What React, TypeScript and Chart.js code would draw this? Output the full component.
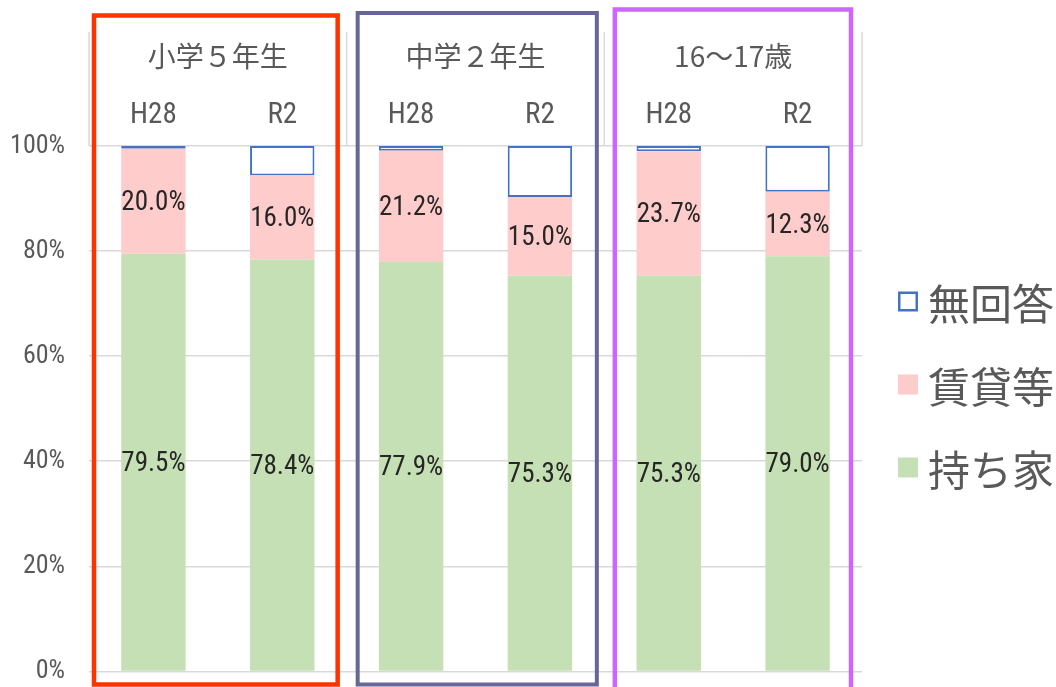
import React, { useEffect, useRef } from 'react';
import { Chart, registerables } from 'chart.js';

Chart.register(...registerables);

// ---- data ----
const categories = ['H28', 'R2', 'H28', 'R2', 'H28', 'R2'];
const groups = ['小学５年生', '中学２年生', '16～17歳'];
const seriesNames = ['持ち家', '賃貸等', '無回答'];
const ownHome = [79.5, 78.4, 77.9, 75.3, 75.3, 79.0];
const rental = [20.0, 16.0, 21.2, 15.0, 23.7, 12.3];
const noAnswer = [0.5, 5.6, 0.9, 9.7, 1.0, 8.7];
const yTickValues = [0, 20, 40, 60, 80, 100];
const yTickLabels = ['0%', '20%', '40%', '60%', '80%', '100%'];

// ---- styles ----
const NARROW = "'Liberation Sans Narrow', 'Roboto Condensed', 'DejaVu Sans Condensed', Roboto, sans-serif";
const CJK = "'Noto Sans CJK JP', 'Noto Sans CJK SC', sans-serif";
const TEXT = '#595959';
const GRID = '#d9d9d9';
const COLORS = { own: '#C5E0B4', rent: '#FFCCCC', none: '#FFFFFF', noneBorder: '#4472C4' };
const FRAMES = [
  { color: '#FF3300', inL: 5, inR: 9, top: 15.5, bottom: 684.5, width: 4.5 },
  { color: '#666699', inL: 11, inR: 7.5, top: 13, bottom: 684.5, width: 4 },
  { color: '#CC66FF', inL: 10.5, inR: 11, top: 9.5, bottom: 692, width: 4.5 },
];
const LEGEND = { boxX: 898, textX: 928, firstY: 304, step: 83, box: 20, font: 42 };

const decorPlugin = {
  id: 'decor',
  afterDatasetsDraw(chart: any) {
    const ctx = chart.ctx;
    ctx.save();
    ctx.font = `27px ${NARROW}`;
    ctx.fillStyle = '#262626';
    ctx.textAlign = 'center';
    ctx.textBaseline = 'middle';
    [0, 1].forEach((di) => {
      const meta = chart.getDatasetMeta(di);
      meta.data.forEach((bar: any, i: number) => {
        const v = chart.data.datasets[di].data[i] as number;
        const y = (bar.y + bar.base) / 2 + 2;
        ctx.fillText(v.toFixed(1) + '%', bar.x, y);
      });
    });
    ctx.restore();
  },
  afterDraw(chart: any) {
    const ctx = chart.ctx;
    const x2 = chart.scales.x2;
    const top = chart.chartArea.top;
    const b = (i: number) => x2.getPixelForValue(i - 0.5);
    ctx.save();
    // header dividers
    ctx.strokeStyle = GRID;
    ctx.lineWidth = 1.5;
    for (let i = 0; i <= groups.length; i++) {
      const x = b(i);
      ctx.beginPath();
      ctx.moveTo(x, 32);
      ctx.lineTo(x, top);
      ctx.stroke();
    }
    // group frames
    FRAMES.forEach((f, i) => {
      const l = b(i) + f.inL;
      const r = b(i + 1) - f.inR;
      ctx.strokeStyle = f.color;
      ctx.lineWidth = f.width;
      ctx.strokeRect(l, f.top, r - l, f.bottom - f.top);
    });
    // legend
    const order = [2, 1, 0];
    ctx.font = `${LEGEND.font}px ${CJK}`;
    ctx.textAlign = 'left';
    ctx.textBaseline = 'middle';
    order.forEach((di, k) => {
      const ds = chart.data.datasets[di];
      const cy = LEGEND.firstY + k * LEGEND.step;
      const by = cy - 2.5 - LEGEND.box / 2;
      if (ds.borderWidth) {
        ctx.fillStyle = '#FFFFFF';
        ctx.fillRect(LEGEND.boxX, by, LEGEND.box, LEGEND.box);
        ctx.strokeStyle = ds.borderColor;
        ctx.lineWidth = 2.5;
        ctx.strokeRect(LEGEND.boxX + 1.25, by + 1.25, LEGEND.box - 2.5, LEGEND.box - 2.5);
      } else {
        ctx.fillStyle = ds.backgroundColor;
        ctx.fillRect(LEGEND.boxX, by, LEGEND.box, LEGEND.box);
      }
      ctx.fillStyle = TEXT;
      ctx.fillText(ds.label, LEGEND.textX, cy);
    });
    ctx.restore();
  },
};

export default function App() {
  const ref = useRef<HTMLCanvasElement>(null);
  useEffect(() => {
    document.body.style.margin = '0';
    const canvas = ref.current;
    if (!canvas) return;
    const chart = new Chart(canvas, {
      type: 'bar',
      data: {
        labels: categories,
        datasets: [
          { label: seriesNames[0], data: ownHome, backgroundColor: COLORS.own, borderWidth: 0 },
          { label: seriesNames[1], data: rental, backgroundColor: COLORS.rent, borderWidth: 0 },
          {
            label: seriesNames[2], data: noAnswer, backgroundColor: COLORS.none,
            borderColor: COLORS.noneBorder, borderWidth: 2, borderSkipped: false,
          },
        ],
      },
      options: {
        responsive: false,
        animation: false,
        devicePixelRatio: 1,
        categoryPercentage: 0.5,
        barPercentage: 1,
        layout: { padding: { top: 26.8, left: 0, right: 194, bottom: 15 } },
        plugins: { legend: { display: false }, tooltip: { enabled: false } },
        scales: {
          x: {
            type: 'category',
            position: 'top',
            stacked: true,
            offset: true,
            weight: 0,
            grid: { display: false, drawTicks: false },
            border: { display: false },
            ticks: {
              font: { family: NARROW, size: 29, lineHeight: 1.2 },
              color: TEXT, padding: 13, maxRotation: 0, autoSkip: false,
            },
          },
          x2: {
            type: 'category',
            position: 'top',
            labels: groups,
            offset: true,
            weight: 1,
            grid: { display: false, drawTicks: false },
            border: { display: false },
            ticks: {
              font: { family: CJK, size: 28, lineHeight: 1.2 },
              color: TEXT, padding: 12.4, maxRotation: 0, autoSkip: false,
            },
          },
          y: {
            stacked: true,
            min: 0,
            max: 100,
            afterBuildTicks: (scale: any) => { scale.ticks = yTickValues.map((v) => ({ value: v })); },
            afterFit: (scale: any) => { scale.width = 89; },
            grid: {
              color: GRID, lineWidth: 1.5, drawTicks: true, tickLength: 24,
              tickColor: 'rgba(0,0,0,0)',
            },
            border: { display: false },
            ticks: {
              font: { family: NARROW, size: 26, lineHeight: 1.2 },
              color: TEXT, padding: 0,
              callback: (v: any) => yTickLabels[yTickValues.indexOf(Number(v))],
            },
          },
        },
      } as any,
      plugins: [decorPlugin],
    });
    return () => chart.destroy();
  }, []);
  return (
    <div style={{ width: 1056, height: 687, position: 'relative' }}>
      <canvas ref={ref} width={1056} height={687} style={{ display: 'block' }} />
    </div>
  );
}
